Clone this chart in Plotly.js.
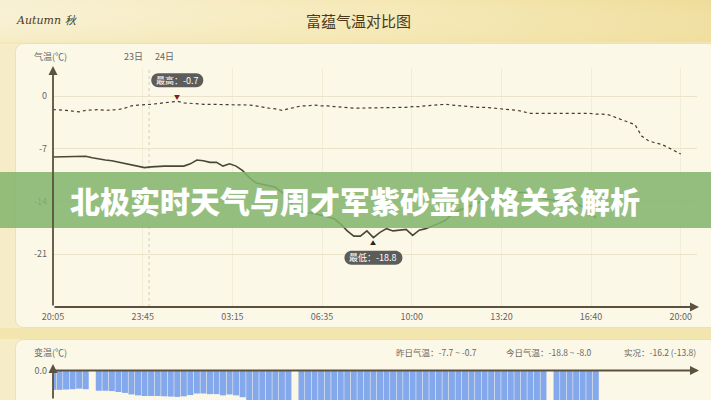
<!DOCTYPE html>
<html>
<head>
<meta charset="utf-8">
<script src="https://cdn.plot.ly/plotly-3.0.1.min.js"></script>
<style>
  html, body { margin: 0; padding: 0; background: #f6edcb; }
  #chart { width: 711px; height: 400px; }
</style>
</head>
<body>
<div id="chart"></div>
<script>
// ---------------- data ----------------
const stepHours = 0.25; // one reading every 15 minutes, starting 20:05
const xTickLabels = ['20:05', '23:45', '03:15', '06:35', '10:00', '13:20', '16:40', '20:00'];
const yTickVals = [0, -7, -14, -21];
const yTickLabels = ['0', '-7', '-14', '-21'];
const dayLabels = ['23日', '24日'];

// yesterday (dashed)
const yesterdayTemp = [
  -1.8, -1.8, -1.9, -2.0, -2.1, -1.9, -1.8, -1.8, -1.9, -1.9,
  -1.8, -1.6, -1.3, -1.2, -1.2, -1.1, -1.0, -0.9, -0.8, -0.7,
  -0.9, -1.0, -1.0, -1.1, -1.1, -1.1, -1.2, -1.2, -1.2, -1.2,
  -1.2, -1.3, -1.5, -1.6, -1.7, -1.9, -1.7, -1.5, -1.3, -1.3,
  -1.2, -1.3, -1.3, -1.4, -1.5, -1.6, -1.6, -1.6, -1.6, -1.6,
  -1.6, -1.6, -1.6, -1.5, -1.5, -1.4, -1.4, -1.3, -1.2, -1.2,
  -1.1, -1.2, -1.3, -1.4, -1.4, -1.5, -1.5, -1.6, -1.6, -1.7,
  -1.8, -1.9, -2.1, -2.3, -2.3, -2.3, -2.2, -2.2, -2.3, -2.3,
  -2.3, -2.3, -2.3, -2.4, -2.4, -2.5, -2.8, -3.1, -3.4, -3.8,
  -5.3, -5.9, -6.2, -6.4, -6.8, -7.2, -7.7
];

// today (solid)
const todayTemp = [
  -8.1, -8.1, -8.1, -8.1, -8.0, -8.0, -8.2, -8.4, -8.5, -8.6,
  -8.8, -8.9, -9.1, -9.3, -9.5, -9.4, -9.3, -9.3, -9.3, -9.3,
  -9.3, -9.0, -8.5, -8.6, -8.8, -8.8, -9.3, -9.0, -9.3, -9.9,
  -10.8, -11.5, -11.7, -11.9, -12.1, -12.8, -13.5, -15.2, -15.4, -15.5,
  -15.6, -15.8, -16.0, -16.3, -17.0, -17.9, -18.6, -18.6, -17.9, -18.8,
  -18.1, -17.6, -17.9, -17.8, -17.7, -18.5, -17.8, -17.6, -17.3, -16.9,
  -16.5, -15.7, -15.2, -14.9, -14.5, -14.2, -13.6, -13.4, -13.2, -13.0,
  -12.9, -12.8, -12.8, -13.0, -13.3, -13.6, -13.8, -13.9, -14.0, -14.0,
  -14.3, -14.7, -15.1, -16.2
];

// readings missing in the change-of-temperature record
const missingBarSteps = [6, 37, 76];
const feelsLike = -13.8;

// ---------------- derived ----------------
const xY = yesterdayTemp.map((_, i) => i * stepHours);
const xT = todayTemp.map((_, i) => i * stepHours);
const diff = todayTemp.map((v, i) =>
  missingBarSteps.includes(i) ? null : Math.round((v - yesterdayTemp[i]) * 10) / 10);

const tickSpan = 24 / (xTickLabels.length - 1);
const tickVals = xTickLabels.map((_, k) => k * tickSpan);
const midnightPos = tickSpan * (1 + 15 / 210);

const yMax = Math.max(...yesterdayTemp), yMin = Math.min(...yesterdayTemp);
const tMax = Math.max(...todayTemp), tMin = Math.min(...todayTemp);
const yMaxIdx = yesterdayTemp.indexOf(yMax);
const tMinIdx = todayTemp.indexOf(tMin);
const f1 = v => v.toFixed(1);

// ---------------- background (decoration) ----------------
const W = 711, H = 400;
const cv = document.createElement('canvas');
cv.width = W; cv.height = H;
const g = cv.getContext('2d');
let bg = g.createLinearGradient(0, 0, W, 0);
bg.addColorStop(0, '#f6ecc8'); bg.addColorStop(1, '#f2e6c0');
g.fillStyle = bg; g.fillRect(0, 0, W, H);
let hg = g.createLinearGradient(0, 0, W, 0);
hg.addColorStop(0, '#f8f0d3'); hg.addColorStop(0.55, '#f5e8b4'); hg.addColorStop(1, '#efdc98');
g.fillStyle = hg; g.fillRect(0, 0, W, 42);
let vg = g.createLinearGradient(0, 0, 0, 44);
vg.addColorStop(0, 'rgba(255,255,255,0)'); vg.addColorStop(1, 'rgba(240,225,160,0.35)');
g.fillStyle = vg; g.fillRect(0, 0, W, 44);
g.fillStyle = '#f3e5ae'; g.fillRect(0, 328, W, 11);
function card(x, y, w, h, r) {
  g.beginPath();
  g.roundRect(x, y, w, h, r);
  g.fillStyle = '#fcf8e7'; g.fill();
  g.strokeStyle = '#ebe0bd'; g.lineWidth = 1; g.stroke();
}
card(15.5, 43.5, 730, 284, 8);
card(15.5, 339.5, 730, 90, 8);
const bgURL = cv.toDataURL();

// ---------------- helpers ----------------
const px = v => v / W;
const py = v => 1 - v / H;
function pill(cy, w, h) {
  const r = h / 2, xl = -w / 2 + r, xr = w / 2 - r, t = cy + r, b = cy - r, k = 0.552 * r;
  return `M ${xl},${t} L ${xr},${t} C ${xr + k},${t} ${xr + r},${cy + k} ${xr + r},${cy} ` +
         `C ${xr + r},${cy - k} ${xr + k},${b} ${xr},${b} L ${xl},${b} ` +
         `C ${xl - k},${b} ${xl - r},${cy - k} ${xl - r},${cy} C ${xl - r},${cy + k} ${xl - k},${t} ${xl},${t} Z`;
}
function arrow(hx, hy, ax, ay) {
  return { xref: 'paper', yref: 'paper', x: px(hx), y: py(hy), ax: ax, ay: ay,
           axref: 'pixel', ayref: 'pixel', text: '', showarrow: true,
           arrowhead: 2, arrowsize: 1, arrowwidth: 1.8, arrowcolor: '#5a523e' };
}
function label(x, y, text, font, xanchor) {
  return { xref: 'paper', yref: 'paper', x: px(x), y: py(y), text: text, showarrow: false,
           xanchor: xanchor || 'center', yanchor: 'middle', font: font };
}
const labelFont = { family: 'Noto Sans CJK SC, Noto Sans, sans-serif', size: 9, color: '#666' };
const infoFont = { family: 'Noto Sans CJK SC, Noto Sans, sans-serif', size: 8.5, color: '#666' };

// ---------------- traces ----------------
const traces = [
  { type: 'scatter', mode: 'lines', x: xY, y: yesterdayTemp, xaxis: 'x', yaxis: 'y',
    line: { color: '#463d30', width: 1.2, dash: '3px,3px' }, hoverinfo: 'skip' },
  { type: 'scatter', mode: 'lines', x: xT, y: todayTemp, xaxis: 'x', yaxis: 'y',
    line: { color: '#4a4832', width: 1.6 }, hoverinfo: 'skip' },
  { type: 'bar', x: xT, y: diff, xaxis: 'x2', yaxis: 'y2',
    marker: { color: '#84a8ec', line: { width: 0 } }, hoverinfo: 'skip' }
];

// ---------------- layout ----------------
const xDomain = [px(53), px(697)];
const layout = {
  width: W, height: H,
  margin: { l: 0, r: 0, t: 0, b: 0, pad: 0 },
  paper_bgcolor: '#f6edcb', plot_bgcolor: 'rgba(0,0,0,0)',
  showlegend: false, bargap: 0.08,
  font: { family: 'Noto Sans CJK SC, Noto Sans, sans-serif' },
  images: [{ source: bgURL, xref: 'paper', yref: 'paper', x: 0, y: 1, sizex: 1, sizey: 1,
             xanchor: 'left', yanchor: 'top', sizing: 'stretch', layer: 'below' }],
  xaxis: { domain: xDomain, range: [0, 24.62], anchor: 'y', tickvals: tickVals, ticktext: xTickLabels,
           showgrid: true, gridcolor: 'rgba(215,205,170,0.25)', zeroline: false, showline: false,
           ticks: '', tickfont: labelFont, ticklabelstandoff: 3, fixedrange: true },
  yaxis: { domain: [py(307), py(68)], range: [-28, 3.72], anchor: 'x', tickvals: yTickVals, ticktext: yTickLabels,
           showgrid: true, gridcolor: '#ebe3c8', gridwidth: 1, zeroline: false, showline: false,
           ticks: '', tickfont: labelFont, ticklabelstandoff: 5, fixedrange: true },
  xaxis2: { domain: xDomain, range: [0, 24.62], anchor: 'y2', showticklabels: false, showgrid: false,
            zeroline: false, showline: false, fixedrange: true },
  yaxis2: { domain: [0, py(365)], range: [-9.61, 1.79], anchor: 'x2', tickvals: [0], ticktext: ['0.0'],
            showgrid: false, zeroline: false, showline: false, ticks: '', tickfont: labelFont,
            ticklabelstandoff: 5, fixedrange: true },
  shapes: [
    { type: 'line', xref: 'x', yref: 'y domain', x0: midnightPos, x1: midnightPos, y0: 0, y1: 1,
      line: { color: '#d6cdb0', width: 1, dash: 'dot' }, layer: 'below' },
    { type: 'path', xref: 'x', yref: 'y', xsizemode: 'pixel', ysizemode: 'pixel',
      xanchor: xY[yMaxIdx], yanchor: yMax, path: pill(21, 52, 14),
      fillcolor: '#5c5c5a', line: { width: 0 }, layer: 'above' },
    { type: 'path', xref: 'x', yref: 'y', xsizemode: 'pixel', ysizemode: 'pixel',
      xanchor: xT[tMinIdx], yanchor: tMin, path: pill(-20, 58, 14),
      fillcolor: '#5c5c5a', line: { width: 0 }, layer: 'above' },
    { type: 'rect', xref: 'paper', yref: 'paper', x0: 0, x1: 1, y0: py(228), y1: py(172),
      fillcolor: 'rgba(130,180,108,0.86)', line: { width: 0 }, layer: 'above' }
  ],
  annotations: [
    label(358, 20, '富蕴气温对比图', { family: 'Noto Sans CJK SC, serif', size: 15, color: '#4a3a1c' }),
    label(14, 20, 'Autumn 秋', { family: 'DejaVu Serif, serif', size: 11, color: '#4a3b22', style: 'italic' }, 'left'),
    label(50, 57, '气温(℃)', labelFont),
    { xref: 'x', yref: 'paper', x: midnightPos, y: py(57), xanchor: 'right', yanchor: 'middle', xshift: -4,
      text: dayLabels[0], showarrow: false, font: labelFont },
    { xref: 'x', yref: 'paper', x: midnightPos, y: py(57), xanchor: 'left', yanchor: 'middle', xshift: 4,
      text: dayLabels[1], showarrow: false, font: labelFont },
    { xref: 'x', yref: 'y', x: xY[yMaxIdx], y: yMax, yshift: 21, text: '最高：' + f1(yMax), showarrow: false,
      xanchor: 'center', yanchor: 'middle', font: { family: labelFont.family, size: 9, color: '#ffffff' } },
    { xref: 'x', yref: 'y', x: xY[yMaxIdx], y: yMax, yshift: 5, text: '▼', showarrow: false,
      xanchor: 'center', yanchor: 'middle', font: { size: 6, color: '#7a2415' } },
    { xref: 'x', yref: 'y', x: xT[tMinIdx], y: tMin, yshift: -20, text: '最低：' + f1(tMin), showarrow: false,
      xanchor: 'center', yanchor: 'middle', font: { family: labelFont.family, size: 9, color: '#ffffff' } },
    { xref: 'x', yref: 'y', x: xT[tMinIdx], y: tMin, yshift: -5, text: '▲', showarrow: false,
      xanchor: 'center', yanchor: 'middle', font: { size: 6, color: '#222' } },
    label(50, 352, '变温(℃)', labelFont),
    label(479, 352, '昨日气温：' + f1(yMin) + ' ~ ' + f1(yMax), infoFont, 'right'),
    label(594, 352, '今日气温：' + f1(tMin) + ' ~ ' + f1(tMax), infoFont, 'right'),
    label(698, 352, '实况：' + f1(todayTemp[todayTemp.length - 1]) + ' (' + f1(feelsLike) + ')', infoFont, 'right'),
    arrow(53, 66, 0, 241),
    arrow(699, 307, -646, 0),
    arrow(699, 370.5, -646, 0),
    arrow(53, 364, 0, 40),
    label(355, 200, '北极实时天气与周才军紫砂壶价格关系解析',
      { family: 'Noto Sans CJK SC, sans-serif', size: 30, color: '#ffffff', weight: 900 })
  ]
};

Plotly.newPlot('chart', traces, layout, { displayModeBar: false, staticPlot: true });
</script>
</body>
</html>
